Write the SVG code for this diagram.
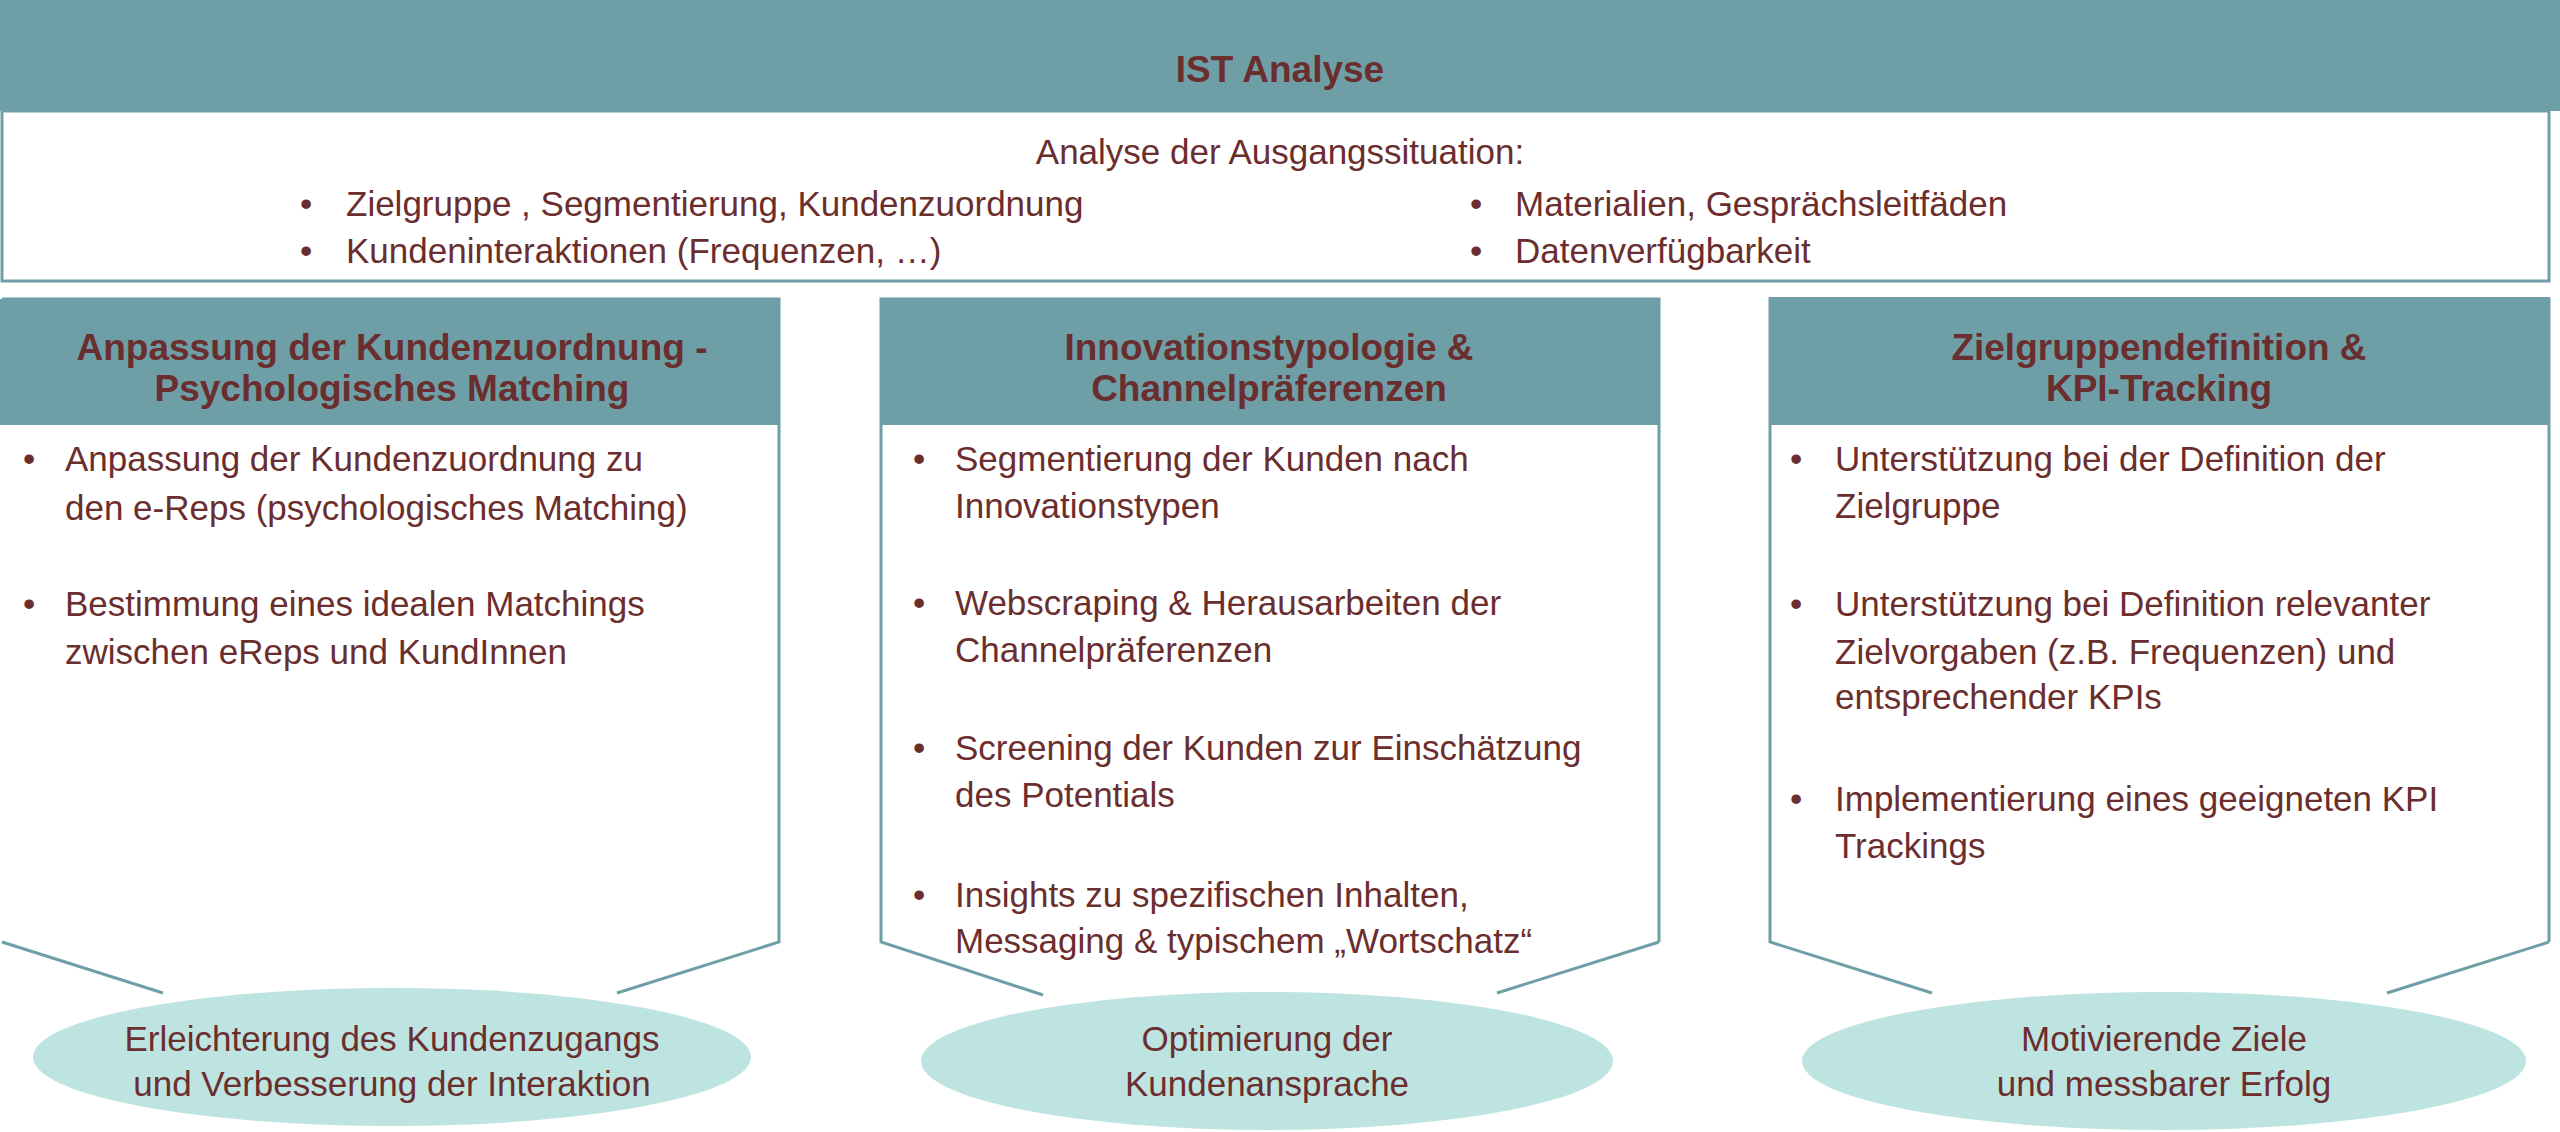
<svg xmlns="http://www.w3.org/2000/svg" width="2560" height="1132" viewBox="0 0 2560 1132">
<style>
text{font-family:"Liberation Sans",Arial,sans-serif;fill:#6B2E2E;font-size:35px}
.b{font-weight:bold;font-size:37px;text-anchor:middle}
.c{text-anchor:middle}
.hd{fill:#6E9FA6}
.bx{fill:#fff;stroke:#6E9FA6;stroke-width:3}
.el{fill:#BEE4E1}
</style>
<rect width="2560" height="1132" fill="#fff"/>
<g id="ist">
<rect class="bx" x="2" y="111" width="2547" height="170"/>
<rect class="hd" x="0" y="0" width="2560" height="111"/>
<text class="b" x="1280" y="82">IST Analyse</text>
<text class="c" x="1280" y="164">Analyse der Ausgangssituation:</text>
<text x="300" y="216">•</text><text x="346" y="216">Zielgruppe , Segmentierung, Kundenzuordnung</text>
<text x="300" y="263">•</text><text x="346" y="263">Kundeninteraktionen (Frequenzen, …)</text>
<text x="1470" y="216">•</text><text x="1515" y="216">Materialien, Gesprächsleitfäden</text>
<text x="1470" y="263">•</text><text x="1515" y="263">Datenverfügbarkeit</text>
</g>
<g id="col1">
<path class="bx" d="M2,299 H779 V942 L617,993 M163,993 L2,942 Z"/>
<rect class="hd" x="0" y="299" width="780" height="126"/>
<text class="b" x="392" y="360">Anpassung der Kundenzuordnung -</text>
<text class="b" x="392" y="401">Psychologisches Matching</text>
<text x="23" y="471">•</text><text x="65" y="471">Anpassung der Kundenzuordnung zu</text>
<text x="65" y="520">den e-Reps (psychologisches Matching)</text>
<text x="23" y="616">•</text><text x="65" y="616">Bestimmung eines idealen Matchings</text>
<text x="65" y="664">zwischen eReps und KundInnen</text>
</g>
<g id="col2">
<path class="bx" d="M1659,942 V299 H881 V942 L1043,995 M1497,993 L1659,942"/>
<rect class="hd" x="880" y="299" width="780" height="126"/>
<text class="b" x="1269" y="360">Innovationstypologie &amp;</text>
<text class="b" x="1269" y="401">Channelpräferenzen</text>
<text x="913" y="471">•</text><text x="955" y="471">Segmentierung der Kunden nach</text>
<text x="955" y="518">Innovationstypen</text>
<text x="913" y="615">•</text><text x="955" y="615">Webscraping &amp; Herausarbeiten der</text>
<text x="955" y="662">Channelpräferenzen</text>
<text x="913" y="760">•</text><text x="955" y="760">Screening der Kunden zur Einschätzung</text>
<text x="955" y="807">des Potentials</text>
<text x="913" y="907">•</text><text x="955" y="907">Insights zu spezifischen Inhalten,</text>
<text x="955" y="953">Messaging &amp; typischem „Wortschatz“</text>
</g>
<g id="col3">
<path class="bx" d="M2549,942 V299 H1770 V942 L1932,993 M2387,993 L2549,942"/>
<rect class="hd" x="1769" y="297" width="781" height="128"/>
<text class="b" x="2159" y="360">Zielgruppendefinition &amp;</text>
<text class="b" x="2159" y="401">KPI-Tracking</text>
<text x="1790" y="471">•</text><text x="1835" y="471">Unterstützung bei der Definition der</text>
<text x="1835" y="518">Zielgruppe</text>
<text x="1790" y="616">•</text><text x="1835" y="616">Unterstützung bei Definition relevanter</text>
<text x="1835" y="664">Zielvorgaben (z.B. Frequenzen)  und</text>
<text x="1835" y="709">entsprechender KPIs</text>
<text x="1790" y="811">•</text><text x="1835" y="811">Implementierung eines geeigneten KPI</text>
<text x="1835" y="858">Trackings</text>
</g>
<g id="out1"><ellipse class="el" cx="392" cy="1057" rx="359" ry="69"/>
<text class="c" x="392" y="1051">Erleichterung des Kundenzugangs</text>
<text class="c" x="392" y="1096">und Verbesserung der Interaktion</text></g>
<g id="out2"><ellipse class="el" cx="1267" cy="1061" rx="346" ry="69"/>
<text class="c" x="1267" y="1051">Optimierung der</text>
<text class="c" x="1267" y="1096">Kundenansprache</text></g>
<g id="out3"><ellipse class="el" cx="2164" cy="1061" rx="362" ry="69"/>
<text class="c" x="2164" y="1051">Motivierende Ziele</text>
<text class="c" x="2164" y="1096">und messbarer Erfolg</text></g>
<g id="connectors"></g>
</svg>
